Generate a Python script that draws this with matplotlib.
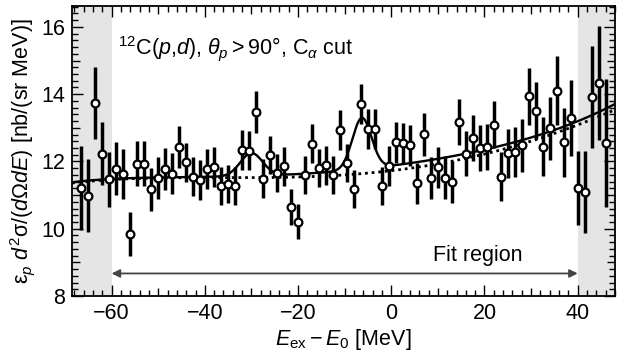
import numpy as np
import matplotlib
matplotlib.use("Agg")
import matplotlib.pyplot as plt
from matplotlib.ticker import MultipleLocator, FixedLocator, FuncFormatter

plt.rcParams['font.family'] = ['Liberation Sans', 'DejaVu Sans']
plt.rcParams['mathtext.fontset'] = 'custom'
plt.rcParams['mathtext.rm'] = 'Liberation Sans'
plt.rcParams['mathtext.it'] = 'Liberation Sans:italic'
plt.rcParams['mathtext.bf'] = 'Liberation Sans:bold'

# ---------------- data ----------------
bin_start = -66.5
bin_width = 1.5
y_vals = [11.22, 10.98, 13.74, 12.23, 11.47, 11.78, 11.62, 9.85, 11.93, 11.93,
          11.17, 11.51, 11.77, 11.63, 12.43, 11.97, 11.55, 11.45, 11.77, 11.84,
          11.27, 11.32, 11.27, 12.34, 12.32, 13.47, 11.49, 12.20, 11.66, 11.85,
          10.64, 10.21, 11.60, 12.52, 11.80, 11.88, 11.60, 12.94, 11.96, 11.18,
          13.71, 12.97, 12.97, 11.27, 11.87, 12.57, 12.54, 12.48, 11.35, 12.81,
          11.51, 11.83, 11.52, 11.39, 13.18, 12.23, 12.70, 12.40, 12.43, 13.09,
          11.55, 12.24, 12.28, 12.48, 13.94, 13.51, 12.44, 12.98, 14.10, 12.57,
          13.29, 11.20, 11.08, 13.91, 14.34, 12.56]
y_errs = [1.25, 1.09, 1.08, 0.93, 0.82, 0.79, 0.74, 0.66, 0.67, 0.67,
          0.63, 0.63, 0.63, 0.61, 0.62, 0.59, 0.58, 0.59, 0.59, 0.59,
          0.57, 0.57, 0.57, 0.58, 0.58, 0.62, 0.57, 0.57, 0.57, 0.57,
          0.53, 0.53, 0.56, 0.58, 0.57, 0.57, 0.57, 0.60, 0.57, 0.57,
          0.60, 0.60, 0.60, 0.57, 0.59, 0.61, 0.61, 0.61, 0.61, 0.64,
          0.63, 0.61, 0.64, 0.63, 0.68, 0.67, 0.68, 0.69, 0.69, 0.70,
          0.73, 0.73, 0.75, 0.78, 0.85, 0.84, 0.87, 0.93, 1.02, 1.02,
          1.12, 1.10, 1.22, 1.52, 1.70, 1.90]
x_vals = bin_start + bin_width * np.arange(len(y_vals))

# background (dotted) curve, read at a few energies
bg_knot_x = [-68.5, -60, -40, -20, 0, 10, 20, 30, 40, 48]
bg_knot_y = [11.37, 11.44, 11.52, 11.56, 11.69, 11.94, 12.22, 12.60, 13.10, 13.53]
# full fit (solid): continuum + two peaks
cont_knot_x = [-68.5, -60, -45, -35, -20, -12, 0, 4, 10, 16, 22, 30, 40, 48]
cont_knot_y = [11.39, 11.46, 11.54, 11.57, 11.63, 11.66, 11.83, 11.99, 12.14, 12.24, 12.36, 12.70, 13.22, 13.70]
peak_centers = [-30.0, -6.3]
peak_amps = [0.68, 1.52]
peak_sigmas = [2.4, 2.05]

fit_lo, fit_hi = -60, 40
x_min, x_max = -68.5, 48.0
y_min, y_max = 8.0, 16.62

# ---------------- figure ----------------
fig = plt.figure(figsize=(6.17, 3.56), dpi=100)
ax = fig.add_axes([72/617, 1-296/356, (615-72)/617, (296-6)/356])

ax.axvspan(x_min, fit_lo, color='#e5e5e5', lw=0, zorder=0)
ax.axvspan(fit_hi, x_max, color='#e5e5e5', lw=0, zorder=0)

xs = np.linspace(x_min, x_max, 800)
bg = np.polyval(np.polyfit(bg_knot_x, bg_knot_y, 4), xs)
cont = np.polyval(np.polyfit(cont_knot_x, cont_knot_y, 5), xs)
full = cont.copy()
for c, a, s in zip(peak_centers, peak_amps, peak_sigmas):
    full += a * np.exp(-0.5 * ((xs - c) / s) ** 2)

ax.plot(xs, bg, color='black', lw=2.0, ls=(0, (1, 1.4)), zorder=2)
ax.plot(xs, full, color='black', lw=1.7, zorder=3)

ax.errorbar(x_vals, y_vals, yerr=y_errs, fmt='o', ms=5.6, mfc='white', mec='black',
            mew=1.6, ecolor='black', elinewidth=2.5, capsize=0, zorder=4)

ax.annotate('', xy=(fit_lo, 8.67), xytext=(fit_hi, 8.67),
            arrowprops=dict(arrowstyle='<|-|>', color='#444444', lw=1.3,
                            mutation_scale=12, shrinkA=0, shrinkB=0))
ax.text(8.9, 9.05, 'Fit region', fontsize=15.5, ha='left', va='baseline')
ax.text(-58.7, 15.18, r'$^{12}$C($p$,$d$), $\theta_p > 90°$, C$_{\alpha}$ cut',
        fontsize=15.5, ha='left', va='baseline')

ax.set_xlim(x_min, x_max)
ax.set_ylim(y_min, y_max)

ax.xaxis.set_major_locator(FixedLocator(np.arange(-60, 50, 10)))
ax.xaxis.set_minor_locator(MultipleLocator(2))
ax.yaxis.set_major_locator(FixedLocator(np.arange(8, 17, 1)))
ax.yaxis.set_minor_locator(MultipleLocator(0.2))

def xfmt(v, p):
    return '' if int(round(v)) % 20 else f'{int(round(v))}'.replace('-', '\u2212')
def yfmt(v, p):
    return '' if int(round(v)) % 2 else f'{int(round(v))}'
ax.xaxis.set_major_formatter(FuncFormatter(xfmt))
ax.yaxis.set_major_formatter(FuncFormatter(yfmt))

ax.tick_params(which='both', direction='in', top=True, right=True, width=1.0, labelsize=15.5)
ax.tick_params(which='major', length=8, pad=5)
ax.tick_params(which='minor', length=4)
for sp in ax.spines.values():
    sp.set_linewidth(1.3)

# medium ticks at the odd (unlabelled) major positions
for t, v in zip(ax.xaxis.get_major_ticks(), np.arange(-60, 50, 10)):
    if int(v) % 20:
        t.tick1line.set_markersize(6)
        t.tick2line.set_markersize(6)
for t, v in zip(ax.yaxis.get_major_ticks(), np.arange(8, 17, 1)):
    if int(v) % 2:
        t.tick1line.set_markersize(6)
        t.tick2line.set_markersize(6)

ax.set_xlabel(r'$E_{\mathrm{ex}} - E_0$ [MeV]', fontsize=15.5, labelpad=2)
ax.set_ylabel(r'$\mathrm{\varepsilon}_p$ $d^2\mathrm{\sigma}/(d\mathrm{\Omega} dE)$ [nb/(sr MeV)]',
              fontsize=15.5, labelpad=3)

fig.savefig('out.png', dpi=100)
